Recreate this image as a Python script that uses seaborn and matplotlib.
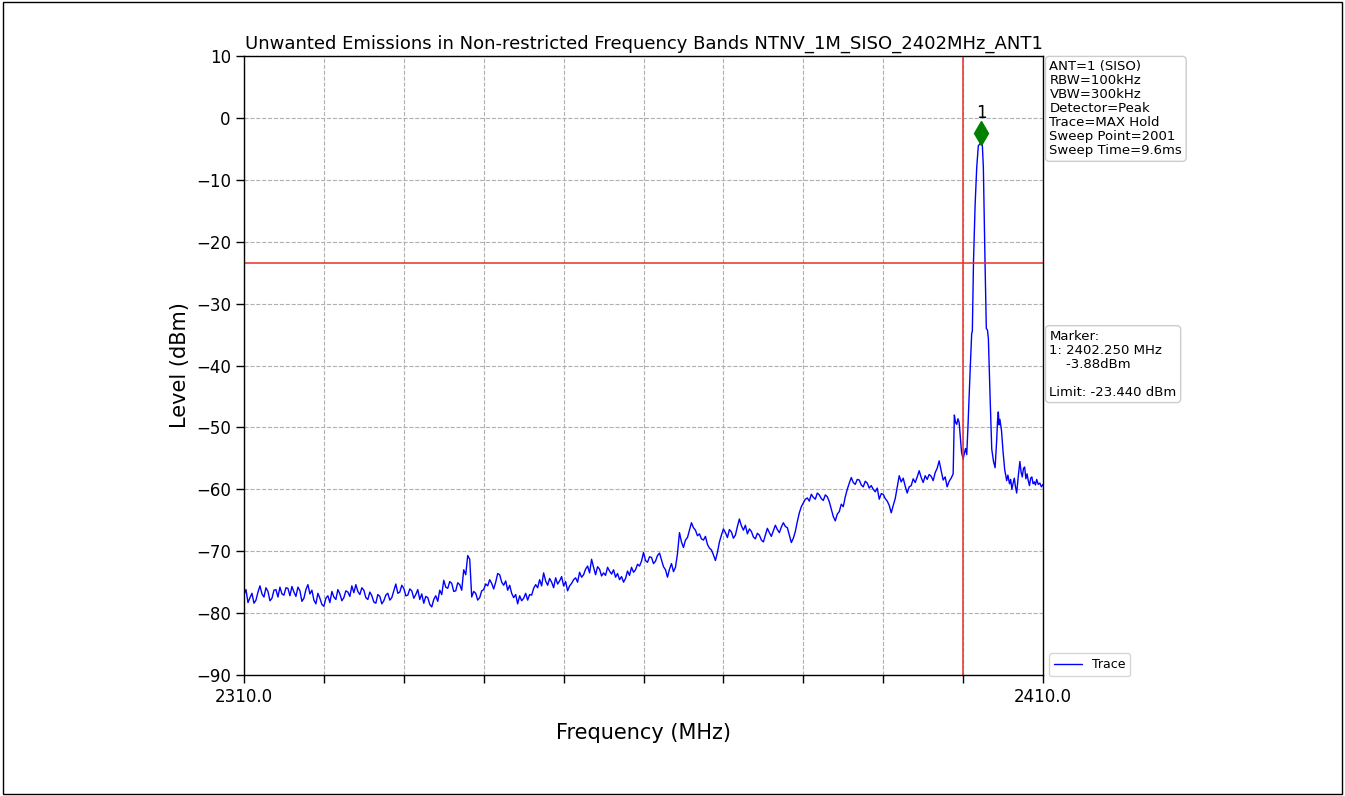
import numpy as np
import pandas as pd
import matplotlib
matplotlib.use('Agg')
import matplotlib.pyplot as plt
import seaborn as sns

sns.set_theme(style='white')
plt.rcParams['font.family'] = ['DejaVu Sans']
plt.rcParams['axes.unicode_minus'] = True
for k in ['text.color', 'axes.labelcolor', 'xtick.color', 'ytick.color']:
    plt.rcParams[k] = 'black'

# sweep part of the trace, 0.25 MHz apart
freq_sweep = [
    2310.0, 2310.25, 2310.5, 2310.75, 2311.0, 2311.25, 2311.5, 2311.75,
    2312.0, 2312.25, 2312.5, 2312.75, 2313.0, 2313.25, 2313.5, 2313.75,
    2314.0, 2314.25, 2314.5, 2314.75, 2315.0, 2315.25, 2315.5, 2315.75,
    2316.0, 2316.25, 2316.5, 2316.75, 2317.0, 2317.25, 2317.5, 2317.75,
    2318.0, 2318.25, 2318.5, 2318.75, 2319.0, 2319.25, 2319.5, 2319.75,
    2320.0, 2320.25, 2320.5, 2320.75, 2321.0, 2321.25, 2321.5, 2321.75,
    2322.0, 2322.25, 2322.5, 2322.75, 2323.0, 2323.25, 2323.5, 2323.75,
    2324.0, 2324.25, 2324.5, 2324.75, 2325.0, 2325.25, 2325.5, 2325.75,
    2326.0, 2326.25, 2326.5, 2326.75, 2327.0, 2327.25, 2327.5, 2327.75,
    2328.0, 2328.25, 2328.5, 2328.75, 2329.0, 2329.25, 2329.5, 2329.75,
    2330.0, 2330.25, 2330.5, 2330.75, 2331.0, 2331.25, 2331.5, 2331.75,
    2332.0, 2332.25, 2332.5, 2332.75, 2333.0, 2333.25, 2333.5, 2333.75,
    2334.0, 2334.25, 2334.5, 2334.75, 2335.0, 2335.25, 2335.5, 2335.75,
    2336.0, 2336.25, 2336.5, 2336.75, 2337.0, 2337.25, 2337.5, 2337.75,
    2338.0, 2338.25, 2338.5, 2338.75, 2339.0, 2339.25, 2339.5, 2339.75,
    2340.0, 2340.25, 2340.5, 2340.75, 2341.0, 2341.25, 2341.5, 2341.75,
    2342.0, 2342.25, 2342.5, 2342.75, 2343.0, 2343.25, 2343.5, 2343.75,
    2344.0, 2344.25, 2344.5, 2344.75, 2345.0, 2345.25, 2345.5, 2345.75,
    2346.0, 2346.25, 2346.5, 2346.75, 2347.0, 2347.25, 2347.5, 2347.75,
    2348.0, 2348.25, 2348.5, 2348.75, 2349.0, 2349.25, 2349.5, 2349.75,
    2350.0, 2350.25, 2350.5, 2350.75, 2351.0, 2351.25, 2351.5, 2351.75,
    2352.0, 2352.25, 2352.5, 2352.75, 2353.0, 2353.25, 2353.5, 2353.75,
    2354.0, 2354.25, 2354.5, 2354.75, 2355.0, 2355.25, 2355.5, 2355.75,
    2356.0, 2356.25, 2356.5, 2356.75, 2357.0, 2357.25, 2357.5, 2357.75,
    2358.0, 2358.25, 2358.5, 2358.75, 2359.0, 2359.25, 2359.5, 2359.75,
    2360.0, 2360.25, 2360.5, 2360.75, 2361.0, 2361.25, 2361.5, 2361.75,
    2362.0, 2362.25, 2362.5, 2362.75, 2363.0, 2363.25, 2363.5, 2363.75,
    2364.0, 2364.25, 2364.5, 2364.75, 2365.0, 2365.25, 2365.5, 2365.75,
    2366.0, 2366.25, 2366.5, 2366.75, 2367.0, 2367.25, 2367.5, 2367.75,
    2368.0, 2368.25, 2368.5, 2368.75, 2369.0, 2369.25, 2369.5, 2369.75,
    2370.0, 2370.25, 2370.5, 2370.75, 2371.0, 2371.25, 2371.5, 2371.75,
    2372.0, 2372.25, 2372.5, 2372.75, 2373.0, 2373.25, 2373.5, 2373.75,
    2374.0, 2374.25, 2374.5, 2374.75, 2375.0, 2375.25, 2375.5, 2375.75,
    2376.0, 2376.25, 2376.5, 2376.75, 2377.0, 2377.25, 2377.5, 2377.75,
    2378.0, 2378.25, 2378.5, 2378.75, 2379.0, 2379.25, 2379.5, 2379.75,
    2380.0, 2380.25, 2380.5, 2380.75, 2381.0, 2381.25, 2381.5, 2381.75,
    2382.0, 2382.25, 2382.5, 2382.75, 2383.0, 2383.25, 2383.5, 2383.75,
    2384.0, 2384.25, 2384.5, 2384.75, 2385.0, 2385.25, 2385.5, 2385.75,
    2386.0, 2386.25, 2386.5, 2386.75, 2387.0, 2387.25, 2387.5, 2387.75,
    2388.0, 2388.25, 2388.5, 2388.75, 2389.0, 2389.25, 2389.5, 2389.75,
    2390.0, 2390.25, 2390.5, 2390.75, 2391.0, 2391.25, 2391.5, 2391.75,
    2392.0, 2392.25, 2392.5, 2392.75, 2393.0, 2393.25, 2393.5, 2393.75,
    2394.0, 2394.25, 2394.5, 2394.75, 2395.0, 2395.25, 2395.5, 2395.75,
    2396.0, 2396.25, 2396.5, 2396.75, 2397.0, 2397.25, 2397.5, 2397.75,
    2398.0, 2398.25, 2398.5, 2398.75,
]
level_sweep = [
    -77.0, -76.2, -78.3, -77.5, -76.8, -78.4, -77.9, -76.6,
    -75.6, -76.9, -77.4, -75.9, -76.5, -78.0, -77.6, -76.3,
    -76.2, -77.4, -75.8, -76.9, -77.1, -75.9, -76.0, -77.2,
    -75.7, -76.6, -77.3, -75.8, -76.4, -78.1, -77.6, -76.2,
    -75.4, -76.9, -76.3, -77.9, -78.5, -76.8, -77.6, -78.6,
    -78.9, -77.6, -77.2, -78.3, -76.5, -77.4, -77.8, -76.2,
    -76.9, -78.0, -77.5, -76.4, -76.6, -77.3, -75.6, -76.7,
    -75.4, -76.5, -77.0, -75.9, -76.3, -77.5, -77.8, -76.6,
    -77.2, -78.2, -78.4, -77.0, -77.3, -78.5, -78.0, -77.1,
    -76.8, -77.9, -77.5, -76.4, -75.3, -76.8, -76.6, -75.5,
    -76.0, -77.2, -77.1, -76.1, -76.4, -77.6, -77.0, -76.2,
    -77.8, -76.9, -78.4, -77.3, -77.5, -78.6, -79.0, -77.8,
    -77.2, -78.1, -76.3, -77.0, -74.7, -75.8, -76.0, -74.9,
    -75.2, -76.5, -76.4, -75.1, -75.4, -76.3, -73.0, -73.8,
    -70.7, -71.3, -77.4, -76.5, -76.8, -77.9, -77.5, -76.4,
    -76.2, -75.3, -75.6, -74.6, -75.2, -76.1, -75.0, -73.6,
    -73.8, -75.0, -75.5, -74.8, -76.3, -75.5, -76.8, -77.5,
    -77.0, -78.5, -77.2, -78.0, -77.6, -76.8, -77.9, -77.0,
    -77.1, -76.0, -75.4, -75.9, -74.6, -75.6, -73.5, -74.8,
    -75.5, -74.4, -75.0, -75.9, -74.3, -75.3, -74.8, -74.1,
    -75.6, -74.9, -76.4, -75.6, -75.2, -74.6, -74.3, -75.0,
    -73.4, -74.2, -73.8, -72.9, -72.4, -73.5, -71.3, -72.6,
    -73.8, -72.5, -72.9, -74.0, -73.5, -73.9, -72.6, -73.2,
    -73.7, -73.0, -74.2, -73.6, -74.6, -74.1, -75.0, -74.4,
    -73.2, -73.9, -72.6, -73.4, -73.0, -72.1, -72.4, -71.6,
    -70.2, -71.5, -71.8, -70.9, -71.0, -72.0, -71.6, -70.7,
    -70.3, -71.4, -72.5, -73.0, -74.2, -72.9, -72.0, -73.3,
    -72.6, -70.4, -67.0, -68.5, -69.4, -68.2, -67.8, -66.6,
    -65.4, -66.2, -66.6, -67.5, -67.2, -68.0, -68.2, -67.6,
    -68.9, -69.5, -69.8, -70.6, -71.5, -70.2, -68.5, -67.4,
    -66.4, -67.0, -67.8, -66.5, -66.9, -67.9, -67.4, -66.0,
    -64.8, -65.9, -66.6, -65.8, -67.2, -66.4, -66.8, -67.7,
    -68.0, -67.1, -67.4, -68.2, -68.5, -67.4, -66.3, -67.0,
    -67.6, -66.7, -65.8, -66.5, -67.0, -66.1, -65.4, -66.0,
    -66.2, -67.4, -68.6, -67.9, -66.8, -65.2, -63.8, -62.8,
    -62.2, -61.6, -61.4, -61.9, -60.8, -61.3, -61.6, -60.6,
    -60.9, -61.5, -61.8, -60.9, -61.2, -62.0, -63.2, -64.4,
    -65.1, -64.0, -63.6, -62.4, -62.8, -61.2, -60.0, -59.0,
    -58.1, -58.9, -59.2, -58.4, -58.5, -59.3, -59.6, -58.7,
    -59.0, -59.8, -59.4, -60.0, -60.4, -59.8, -61.6, -60.7,
    -60.8, -61.5, -61.9, -62.6, -63.8, -62.6, -61.5, -59.6,
    -57.8, -58.8, -58.2, -59.5, -60.6, -59.6, -59.4, -58.3,
    -58.9, -58.0, -57.0, -58.1, -58.9, -57.8, -58.4, -57.6,
    -57.9, -58.6, -57.3, -56.6, -55.4, -57.0, -58.5, -58.0,
    -59.6, -58.7, -58.2, -57.5,
]
# around the carrier the trace is sampled more finely
freq_peak = [
    2398.9, 2399.05, 2399.2, 2399.35, 2399.5, 2399.65, 2399.8, 2400.0, 2400.15, 2400.3,
    2400.45, 2400.6, 2400.9, 2401.07, 2401.15, 2401.3, 2401.5, 2401.7, 2401.9, 2402.1,
    2402.25, 2402.4, 2402.53, 2402.74, 2402.9, 2403.05, 2403.16, 2403.37, 2403.58, 2403.8,
    2404.0, 2404.2, 2404.3, 2404.4, 2404.5, 2404.6, 2404.8, 2405.0, 2405.2, 2405.45,
    2405.6, 2405.8, 2405.95, 2406.1, 2406.25, 2406.4, 2406.55, 2406.7, 2406.9, 2407.1,
    2407.25, 2407.4, 2407.55, 2407.7, 2407.85, 2408.0, 2408.15, 2408.3, 2408.45, 2408.6,
    2408.75, 2408.9, 2409.05, 2409.2, 2409.4, 2409.6, 2409.8, 2410.0,
]
level_peak = [
    -48.0, -49.2, -49.5, -48.6, -49.2, -51.5, -54.0, -55.1, -54.2, -53.4,
    -54.4, -50.0, -40.0, -34.8, -34.5, -23.0, -14.0, -8.0, -4.5, -4.2,
    -3.88, -4.3, -8.0, -23.4, -34.0, -34.3, -35.7, -45.0, -53.5, -55.5,
    -56.5, -52.0, -49.0, -47.5, -49.6, -48.7, -50.5, -54.0, -56.8, -58.6,
    -57.7, -59.1, -58.4, -60.0, -59.0, -58.2, -59.6, -60.6, -57.9, -55.5,
    -57.2, -58.0, -56.6, -56.4, -58.3, -57.5, -58.6, -59.4, -58.2, -58.0,
    -59.1, -58.8, -59.3, -58.4, -59.2, -59.0, -59.6, -59.2,
]

marker_freq = 2402.250
marker_level = -3.88
limit_level = -23.440
band_edge = 2400.0

title = 'Unwanted Emissions in Non-restricted Frequency Bands NTNV_1M_SISO_2402MHz_ANT1'
settings = ['ANT=1 (SISO)', 'RBW=100kHz', 'VBW=300kHz', 'Detector=Peak',
            'Trace=MAX Hold', 'Sweep Point=2001', 'Sweep Time=9.6ms']
x_ticks = [2310, 2320, 2330, 2340, 2350, 2360, 2370, 2380, 2390, 2400, 2410]
x_labels = ['2310.0', '', '', '', '', '', '', '', '', '', '2410.0']
y_ticks = [-90, -80, -70, -60, -50, -40, -30, -20, -10, 0, 10]

df = pd.DataFrame({'Frequency': freq_sweep + freq_peak,
                   'Level': level_sweep + level_peak})

fig = plt.figure(figsize=(13.45, 7.96), dpi=100)
ax = fig.add_axes([0.1814, 0.152, 0.5941, 0.7776])

sns.lineplot(data=df, x='Frequency', y='Level', ax=ax, color='#0000ff',
             linewidth=1.0, label='Trace', sort=False)
ax.axhline(limit_level, color='#e8302a', linewidth=1.1)
ax.axvline(band_edge, color='#e8302a', linewidth=1.1)

# marker diamond drawn a bit above the peak, like the analyser plot
ax.plot([marker_freq], [marker_level + 1.5], marker='d', color='green',
        markersize=12, linestyle='none')
ax.text(marker_freq, marker_level + 3.2, '1', ha='center', va='bottom', fontsize=12)

ax.set_xlim(2310, 2410)
ax.set_ylim(-90, 10)
ax.set_xticks(x_ticks)
ax.set_xticklabels(x_labels)
ax.set_yticks(y_ticks)
ax.tick_params(axis='both', direction='out', length=6, width=1, labelsize=12,
               bottom=True, left=True)
ax.grid(True, linestyle='--', color='#b0b0b0', linewidth=0.8)
for s in ax.spines.values():
    s.set_color('black')
    s.set_linewidth(1.0)

ax.set_title(title, fontsize=13, pad=5)
ax.set_xlabel('Frequency (MHz)', fontsize=15, labelpad=12)
ax.set_ylabel('Level (dBm)', fontsize=15, labelpad=4)

box = dict(boxstyle='round,pad=0.3', facecolor='white', edgecolor='#cccccc', linewidth=1)
ax.text(1.008, 0.993, '\n'.join(settings), transform=ax.transAxes, fontsize=9.5,
        va='top', ha='left', bbox=box, linespacing=1.1)
ax.text(1.008, 0.558, 'Marker:\n1: %.3f MHz\n    %.2fdBm\n\nLimit: %.3f dBm'
        % (marker_freq, marker_level, limit_level),
        transform=ax.transAxes, fontsize=9.5, va='top', ha='left', bbox=box,
        linespacing=1.1)

ax.legend(loc='lower left', bbox_to_anchor=(1.0, -0.012), fontsize=9,
          frameon=True, edgecolor='#cccccc', handlelength=2.2, borderpad=0.4)

fig.patches.append(plt.Rectangle((0.002, 0.003), 0.996, 0.994, transform=fig.transFigure,
                                 fill=False, edgecolor='black', linewidth=1))

fig.savefig('out.png', dpi=100)
